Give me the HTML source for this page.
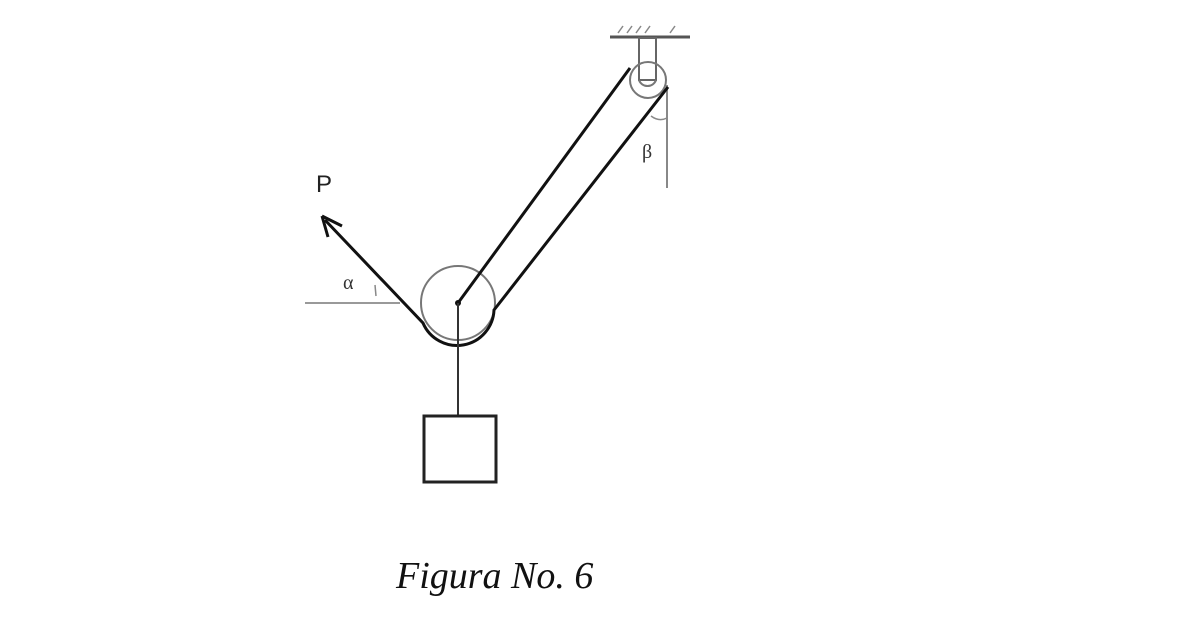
<!DOCTYPE html>
<html><head><meta charset="utf-8"><style>
html,body{margin:0;padding:0;background:#fff;width:1200px;height:643px;overflow:hidden}
</style></head><body>
<svg width="1200" height="643" viewBox="0 0 1200 643" xmlns="http://www.w3.org/2000/svg">
<line x1="610" y1="37" x2="690" y2="37" stroke="#555" stroke-width="3"/>
<g stroke="#888" stroke-width="1.5">
<line x1="618" y1="33" x2="623" y2="26"/><line x1="627" y1="33" x2="632" y2="26"/>
<line x1="636" y1="33" x2="641" y2="26"/><line x1="645" y1="33" x2="650" y2="26"/>
<line x1="670" y1="33" x2="675" y2="26"/>
</g>
<rect x="639" y="38" width="17" height="42" fill="#fff" stroke="#666" stroke-width="2"/>
<circle cx="648" cy="80" r="18" fill="none" stroke="#777" stroke-width="2"/>
<path d="M639 80 A9 9 0 0 0 656 80" fill="none" stroke="#777" stroke-width="2"/>
<line x1="667" y1="85" x2="667" y2="188" stroke="#888" stroke-width="2"/>
<path d="M651 116 Q659 122 667 118" fill="none" stroke="#888" stroke-width="1.5"/>
<text x="642" y="158" font-family="Liberation Serif, serif" font-size="20" fill="#333">β</text>
<line x1="305" y1="303" x2="400" y2="303" stroke="#999" stroke-width="2"/>
<text x="343" y="289" font-family="Liberation Serif, serif" font-size="20" fill="#333">α</text>
<line x1="375" y1="285" x2="376" y2="296" stroke="#888" stroke-width="1.5"/>
<circle cx="458" cy="303" r="37" fill="none" stroke="#777" stroke-width="2"/>
<circle cx="458" cy="303" r="3" fill="#111"/>
<path d="M325 220 L423 323 A37 37 0 0 0 494 310 L668 87" fill="none" stroke="#111" stroke-width="3"/>
<line x1="458" y1="303" x2="630" y2="68" stroke="#111" stroke-width="3"/>
<path d="M322 216 L342 226 M322 216 L328 237" stroke="#111" stroke-width="3" fill="none"/>
<text x="316" y="192" font-family="Liberation Sans, sans-serif" font-size="24" fill="#222">P</text>
<line x1="458" y1="303" x2="458" y2="416" stroke="#333" stroke-width="2"/>
<rect x="424" y="416" width="72" height="66" fill="#fff" stroke="#222" stroke-width="3"/>
<text x="396" y="588" font-family="Liberation Serif, serif" font-style="italic" font-size="38" fill="#111">Figura No. 6</text>
</svg>
</body></html>
